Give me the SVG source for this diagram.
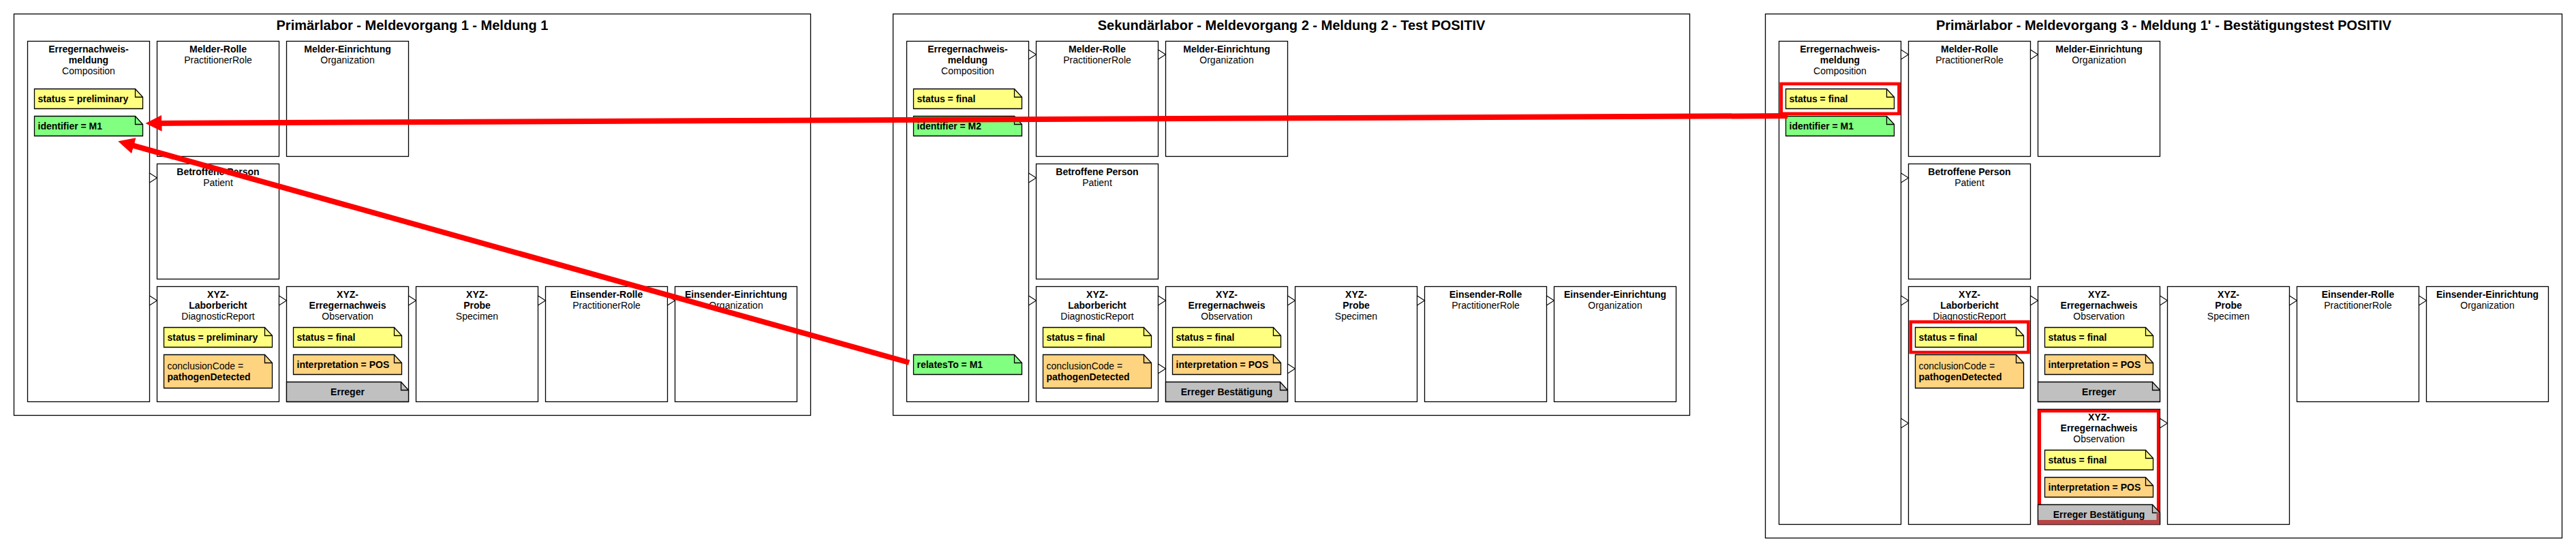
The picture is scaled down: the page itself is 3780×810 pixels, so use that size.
<svg xmlns="http://www.w3.org/2000/svg" xmlns:xlink="http://www.w3.org/1999/xlink" width="3780" height="810" viewBox="0 0 3780 810">
<style>
.bg{fill:#fff}
.frame{fill:#fff;stroke:#000;stroke-width:1.3}
.box{fill:#fff;stroke:#000;stroke-width:1.3}
text{font-family:"Liberation Sans",Arial,Helvetica,sans-serif;font-size:14px;fill:#000}
.c{text-anchor:middle}
.b{font-weight:bold}
.title{font-size:20px;font-weight:bold;text-anchor:middle}
.note{stroke:#000;stroke-width:1.3}
.ny{fill:#ffff80}
.ng{fill:#80ff80}
.no{fill:#ffd480}
.gr{fill:#c0c0c0}
.tri{fill:#fff;stroke:#000;stroke-width:1.1}
.hl{fill:none;stroke:#ff0000;stroke-width:4.6}
.arrow{fill:none;stroke:#ff0000;stroke-width:8;marker-end:url(#ah)}
</style>
<defs>
<g id="n1"><path d="M0,0H148L159,12V29H0Z"/><path d="M148,0V12H159" fill="none"/></g>
<g id="n2"><path d="M0,0H148L159,12V49H0Z"/><path d="M148,0V12H159" fill="none"/></g>
<g id="n3"><path d="M0,0H168L179,12V29H0Z"/><path d="M168,0V12H179" fill="none"/></g>
<path id="tr" d="M0,-7L11,0L0,7Z"/>
<marker id="ah" markerUnits="userSpaceOnUse" markerWidth="26" markerHeight="26" viewBox="0 -13 26 26" refX="10" refY="0" orient="auto"><path d="M0,-12L24,0L0,12Z" fill="#ff0000"/></marker>
</defs>
<rect class="bg" x="0" y="0" width="3780" height="810"/>

<!-- Panel 1 -->
<g id="panel1">
<rect class="frame" x="20.5" y="20.5" width="1169" height="589"/>
<text class="title" x="605" y="44">Primärlabor - Meldevorgang 1 - Meldung 1</text>
</g>
<g id="p1-composition">
<rect class="box" x="40.5" y="60.5" width="179" height="529"/>
<text class="c b" x="130" y="77">Erregernachweis-</text><text class="c b" x="130" y="93">meldung</text><text class="c" x="130" y="109">Composition</text>
<use href="#n1" xlink:href="#n1" class="note ny" x="50.5" y="130.5"/><text class="b" x="55.5" y="150">status = preliminary</text>
<use href="#n1" xlink:href="#n1" class="note ng" x="50.5" y="170.5"/><text class="b" x="55.5" y="190">identifier = M1</text>
</g>
<g id="p1-melder-rolle"><rect class="box" x="230.5" y="60.5" width="179" height="169"/>
<text class="c b" x="320" y="77">Melder-Rolle</text><text class="c" x="320" y="93">PractitionerRole</text></g>
<g id="p1-melder-einrichtung"><rect class="box" x="420.5" y="60.5" width="179" height="169"/>
<text class="c b" x="510" y="77">Melder-Einrichtung</text><text class="c" x="510" y="93">Organization</text></g>
<g id="p1-patient"><rect class="box" x="230.5" y="240.5" width="179" height="169"/>
<text class="c b" x="320" y="257">Betroffene Person</text><text class="c" x="320" y="273">Patient</text></g>
<g id="p1-laborbericht"><rect class="box" x="230.5" y="420.5" width="179" height="169"/>
<text class="c b" x="320" y="437">XYZ-</text><text class="c b" x="320" y="453">Laborbericht</text><text class="c" x="320" y="469">DiagnosticReport</text>
<use href="#n1" xlink:href="#n1" class="note ny" x="240.5" y="480.5"/><text class="b" x="245.5" y="500">status = preliminary</text>
<use href="#n2" xlink:href="#n2" class="note no" x="240.5" y="520.5"/><text x="245.5" y="541.5">conclusionCode =</text><text class="b" x="245.5" y="557.5">pathogenDetected</text>
</g>
<g id="p1-erregernachweis"><rect class="box" x="420.5" y="420.5" width="179" height="169"/>
<text class="c b" x="510" y="437">XYZ-</text><text class="c b" x="510" y="453">Erregernachweis</text><text class="c" x="510" y="469">Observation</text>
<use href="#n1" xlink:href="#n1" class="note ny" x="430.5" y="480.5"/><text class="b" x="435.5" y="500">status = final</text>
<use href="#n1" xlink:href="#n1" class="note no" x="430.5" y="520.5"/><text class="b" x="435.5" y="540">interpretation = POS</text>
<use href="#n3" xlink:href="#n3" class="note gr" x="420.5" y="560.5"/><text class="c b" x="510" y="580">Erreger</text>
</g>
<g id="p1-probe"><rect class="box" x="610.5" y="420.5" width="179" height="169"/>
<text class="c b" x="700" y="437">XYZ-</text><text class="c b" x="700" y="453">Probe</text><text class="c" x="700" y="469">Specimen</text></g>
<g id="p1-einsender-rolle"><rect class="box" x="800.5" y="420.5" width="179" height="169"/>
<text class="c b" x="890" y="437">Einsender-Rolle</text><text class="c" x="890" y="453">PractitionerRole</text></g>
<g id="p1-einsender-einrichtung"><rect class="box" x="990.5" y="420.5" width="179" height="169"/>
<text class="c b" x="1080" y="437">Einsender-Einrichtung</text><text class="c" x="1080" y="453">Organization</text></g>

<!-- Panel 2 -->
<g id="panel2">
<rect class="frame" x="1310.5" y="20.5" width="1169" height="589"/>
<text class="title" x="1895" y="44">Sekundärlabor - Meldevorgang 2 - Meldung 2 - Test POSITIV</text>
</g>
<g id="p2-composition">
<rect class="box" x="1330.5" y="60.5" width="179" height="529"/>
<text class="c b" x="1420" y="77">Erregernachweis-</text><text class="c b" x="1420" y="93">meldung</text><text class="c" x="1420" y="109">Composition</text>
<use href="#n1" xlink:href="#n1" class="note ny" x="1340.5" y="130.5"/><text class="b" x="1345.5" y="150">status = final</text>
<use href="#n1" xlink:href="#n1" class="note ng" x="1340.5" y="170.5"/><text class="b" x="1345.5" y="190">identifier = M2</text>
<use href="#n1" xlink:href="#n1" class="note ng" x="1340.5" y="520.5"/><text class="b" x="1345.5" y="540">relatesTo = M1</text>
</g>
<g id="p2-melder-rolle"><rect class="box" x="1520.5" y="60.5" width="179" height="169"/>
<text class="c b" x="1610" y="77">Melder-Rolle</text><text class="c" x="1610" y="93">PractitionerRole</text></g>
<g id="p2-melder-einrichtung"><rect class="box" x="1710.5" y="60.5" width="179" height="169"/>
<text class="c b" x="1800" y="77">Melder-Einrichtung</text><text class="c" x="1800" y="93">Organization</text></g>
<g id="p2-patient"><rect class="box" x="1520.5" y="240.5" width="179" height="169"/>
<text class="c b" x="1610" y="257">Betroffene Person</text><text class="c" x="1610" y="273">Patient</text></g>
<g id="p2-laborbericht"><rect class="box" x="1520.5" y="420.5" width="179" height="169"/>
<text class="c b" x="1610" y="437">XYZ-</text><text class="c b" x="1610" y="453">Laborbericht</text><text class="c" x="1610" y="469">DiagnosticReport</text>
<use href="#n1" xlink:href="#n1" class="note ny" x="1530.5" y="480.5"/><text class="b" x="1535.5" y="500">status = final</text>
<use href="#n2" xlink:href="#n2" class="note no" x="1530.5" y="520.5"/><text x="1535.5" y="541.5">conclusionCode =</text><text class="b" x="1535.5" y="557.5">pathogenDetected</text>
</g>
<g id="p2-erregernachweis"><rect class="box" x="1710.5" y="420.5" width="179" height="169"/>
<text class="c b" x="1800" y="437">XYZ-</text><text class="c b" x="1800" y="453">Erregernachweis</text><text class="c" x="1800" y="469">Observation</text>
<use href="#n1" xlink:href="#n1" class="note ny" x="1720.5" y="480.5"/><text class="b" x="1725.5" y="500">status = final</text>
<use href="#n1" xlink:href="#n1" class="note no" x="1720.5" y="520.5"/><text class="b" x="1725.5" y="540">interpretation = POS</text>
<use href="#n3" xlink:href="#n3" class="note gr" x="1710.5" y="560.5"/><text class="c b" x="1800" y="580">Erreger Bestätigung</text>
</g>
<g id="p2-probe"><rect class="box" x="1900.5" y="420.5" width="179" height="169"/>
<text class="c b" x="1990" y="437">XYZ-</text><text class="c b" x="1990" y="453">Probe</text><text class="c" x="1990" y="469">Specimen</text></g>
<g id="p2-einsender-rolle"><rect class="box" x="2090.5" y="420.5" width="179" height="169"/>
<text class="c b" x="2180" y="437">Einsender-Rolle</text><text class="c" x="2180" y="453">PractitionerRole</text></g>
<g id="p2-einsender-einrichtung"><rect class="box" x="2280.5" y="420.5" width="179" height="169"/>
<text class="c b" x="2370" y="437">Einsender-Einrichtung</text><text class="c" x="2370" y="453">Organization</text></g>

<!-- Panel 3 -->
<g id="panel3">
<rect class="frame" x="2590.5" y="20.5" width="1169" height="769"/>
<text class="title" x="3175" y="44">Primärlabor - Meldevorgang 3 - Meldung 1' - Bestätigungstest POSITIV</text>
</g>
<g id="p3-composition">
<rect class="box" x="2610.5" y="60.5" width="179" height="709"/>
<text class="c b" x="2700" y="77">Erregernachweis-</text><text class="c b" x="2700" y="93">meldung</text><text class="c" x="2700" y="109">Composition</text>
<use href="#n1" xlink:href="#n1" class="note ny" x="2620.5" y="130.5"/><text class="b" x="2625.5" y="150">status = final</text>
<rect class="hl" x="2613.8" y="123" width="172.7" height="43.8"/>
<use href="#n1" xlink:href="#n1" class="note ng" x="2620.5" y="170.5"/><text class="b" x="2625.5" y="190">identifier = M1</text>
</g>
<g id="p3-melder-rolle"><rect class="box" x="2800.5" y="60.5" width="179" height="169"/>
<text class="c b" x="2890" y="77">Melder-Rolle</text><text class="c" x="2890" y="93">PractitionerRole</text></g>
<g id="p3-melder-einrichtung"><rect class="box" x="2990.5" y="60.5" width="179" height="169"/>
<text class="c b" x="3080" y="77">Melder-Einrichtung</text><text class="c" x="3080" y="93">Organization</text></g>
<g id="p3-patient"><rect class="box" x="2800.5" y="240.5" width="179" height="169"/>
<text class="c b" x="2890" y="257">Betroffene Person</text><text class="c" x="2890" y="273">Patient</text></g>
<g id="p3-laborbericht"><rect class="box" x="2800.5" y="420.5" width="179" height="349"/>
<text class="c b" x="2890" y="437">XYZ-</text><text class="c b" x="2890" y="453">Laborbericht</text><text class="c" x="2890" y="469">DiagnosticReport</text>
<use href="#n1" xlink:href="#n1" class="note ny" x="2810.5" y="480.5"/><text class="b" x="2815.5" y="500">status = final</text>
<rect class="hl" x="2803.7" y="472.3" width="172.7" height="44.7"/>
<use href="#n2" xlink:href="#n2" class="note no" x="2810.5" y="520.5"/><text x="2815.5" y="541.5">conclusionCode =</text><text class="b" x="2815.5" y="557.5">pathogenDetected</text>
</g>
<g id="p3-erregernachweis"><rect class="box" x="2990.5" y="420.5" width="179" height="169"/>
<text class="c b" x="3080" y="437">XYZ-</text><text class="c b" x="3080" y="453">Erregernachweis</text><text class="c" x="3080" y="469">Observation</text>
<use href="#n1" xlink:href="#n1" class="note ny" x="3000.5" y="480.5"/><text class="b" x="3005.5" y="500">status = final</text>
<use href="#n1" xlink:href="#n1" class="note no" x="3000.5" y="520.5"/><text class="b" x="3005.5" y="540">interpretation = POS</text>
<use href="#n3" xlink:href="#n3" class="note gr" x="2990.5" y="560.5"/><text class="c b" x="3080" y="580">Erreger</text>
</g>
<g id="p3-erregernachweis-bestaetigung"><rect class="box" x="2990.5" y="600.5" width="179" height="169"/>
<rect class="hl" x="2992.8" y="603" width="174.4" height="164"/>
<text class="c b" x="3080" y="617">XYZ-</text><text class="c b" x="3080" y="633">Erregernachweis</text><text class="c" x="3080" y="649">Observation</text>
<use href="#n1" xlink:href="#n1" class="note ny" x="3000.5" y="660.5"/><text class="b" x="3005.5" y="680">status = final</text>
<use href="#n1" xlink:href="#n1" class="note no" x="3000.5" y="700.5"/><text class="b" x="3005.5" y="720">interpretation = POS</text>
<use href="#n3" xlink:href="#n3" class="note gr" x="2990.5" y="740.5"/>
<path d="M2991,763H3169V769.5H2991Z M3164.5,752H3169V763H3164.5Z" fill="#b94545"/>
<text class="c b" x="3080" y="760">Erreger Bestätigung</text>
</g>
<g id="p3-probe"><rect class="box" x="3180.5" y="420.5" width="179" height="349"/>
<text class="c b" x="3270" y="437">XYZ-</text><text class="c b" x="3270" y="453">Probe</text><text class="c" x="3270" y="469">Specimen</text></g>
<g id="p3-einsender-rolle"><rect class="box" x="3370.5" y="420.5" width="179" height="169"/>
<text class="c b" x="3460" y="437">Einsender-Rolle</text><text class="c" x="3460" y="453">PractitionerRole</text></g>
<g id="p3-einsender-einrichtung"><rect class="box" x="3560.5" y="420.5" width="179" height="169"/>
<text class="c b" x="3650" y="437">Einsender-Einrichtung</text><text class="c" x="3650" y="453">Organization</text></g>

<!-- Connectors -->
<g id="connectors">
<g class="tri">
<use href="#tr" xlink:href="#tr" x="219.5" y="261"/>
<use href="#tr" xlink:href="#tr" x="219.5" y="441"/>
<use href="#tr" xlink:href="#tr" x="409.5" y="441"/>
<use href="#tr" xlink:href="#tr" x="599.5" y="441"/>
<use href="#tr" xlink:href="#tr" x="789.5" y="441"/>
<use href="#tr" xlink:href="#tr" x="979.5" y="441"/>
<use href="#tr" xlink:href="#tr" x="1509.5" y="80"/>
<use href="#tr" xlink:href="#tr" x="1699.5" y="80"/>
<use href="#tr" xlink:href="#tr" x="1509.5" y="261"/>
<use href="#tr" xlink:href="#tr" x="1509.5" y="441"/>
<use href="#tr" xlink:href="#tr" x="1699.5" y="441"/>
<use href="#tr" xlink:href="#tr" x="1699.5" y="541"/>
<use href="#tr" xlink:href="#tr" x="1889.5" y="441"/>
<use href="#tr" xlink:href="#tr" x="1889.5" y="541"/>
<use href="#tr" xlink:href="#tr" x="2079.5" y="441"/>
<use href="#tr" xlink:href="#tr" x="2269.5" y="441"/>
<use href="#tr" xlink:href="#tr" x="2789.5" y="80"/>
<use href="#tr" xlink:href="#tr" x="2979.5" y="80"/>
<use href="#tr" xlink:href="#tr" x="2789.5" y="261"/>
<use href="#tr" xlink:href="#tr" x="2789.5" y="441"/>
<use href="#tr" xlink:href="#tr" x="2979.5" y="441"/>
<use href="#tr" xlink:href="#tr" x="3169.5" y="441"/>
<use href="#tr" xlink:href="#tr" x="3359.5" y="441"/>
<use href="#tr" xlink:href="#tr" x="3549.5" y="441"/>
<use href="#tr" xlink:href="#tr" x="2789.5" y="621"/>
<use href="#tr" xlink:href="#tr" x="3169.5" y="621"/>
</g>
<path class="arrow" d="M2623,170L227.5,180.9"/>
<path class="arrow" d="M1334,532L186.7,211.1"/>
</g>
</svg>
